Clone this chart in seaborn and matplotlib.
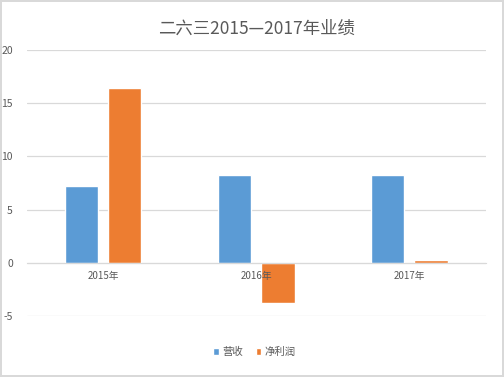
import pandas as pd
import matplotlib.pyplot as plt
import seaborn as sns

years = ["2015年", "2016年", "2017年"]
revenue = [7.2, 8.3, 8.3]
net_profit = [16.4, -3.8, 0.3]
series_names = ["营收", "净利润"]
y_ticks = [-5, 0, 5, 10, 15, 20]

data = pd.DataFrame({
    "年份": years * 2,
    "值": revenue + net_profit,
    "指标": [series_names[0]] * 3 + [series_names[1]] * 3,
})

sns.set_style("white")
plt.rcParams['font.family'] = ['Noto Sans CJK SC', 'DejaVu Sans']
plt.rcParams['axes.unicode_minus'] = False

fig = plt.figure(figsize=(5.04, 3.77), dpi=100)
fig.patch.set_edgecolor("#d9d9d9")
fig.patch.set_linewidth(1.5)
ax = fig.add_axes([0.053, 0.162, 0.911, 0.705])

sns.barplot(data=data, x="年份", y="值", hue="指标", hue_order=series_names,
            palette=["#5b9bd5", "#ed7d31"], width=0.564, gap=0.227,
            saturation=1, ax=ax)

ax.set_xlim(-0.5, 2.5)
ax.set_ylim(-5, 20)
ax.set_yticks(y_ticks)
ax.set_yticklabels([str(t) for t in y_ticks])
ax.yaxis.grid(True, color="#d9d9d9", linewidth=0.9)
ax.set_axisbelow(True)

for s in ["top", "right", "left"]:
    ax.spines[s].set_visible(False)
ax.spines["bottom"].set_position(("data", 0))
ax.spines["bottom"].set_color("#d9d9d9")

ax.tick_params(axis="y", length=0, pad=10, labelsize=7.5, labelcolor="#595959")
ax.tick_params(axis="x", length=0, pad=6, labelsize=7, labelcolor="#595959")
# category labels sit on top of the bars, like in the original
ax.xaxis.set_zorder(3)

ax.set_xlabel(None)
ax.set_ylabel(None)
ax.set_title("二六三2015—2017年业绩", fontsize=12.5, color="#595959", pad=12)

ax.legend(loc="center", bbox_to_anchor=(0.505, 0.066), bbox_transform=fig.transFigure,
          ncol=2, frameon=False, fontsize=7.5, handlelength=0.55, handleheight=0.55,
          handletextpad=0.3, columnspacing=1.2, labelcolor="#595959")

plt.savefig("out.png", dpi=100)
